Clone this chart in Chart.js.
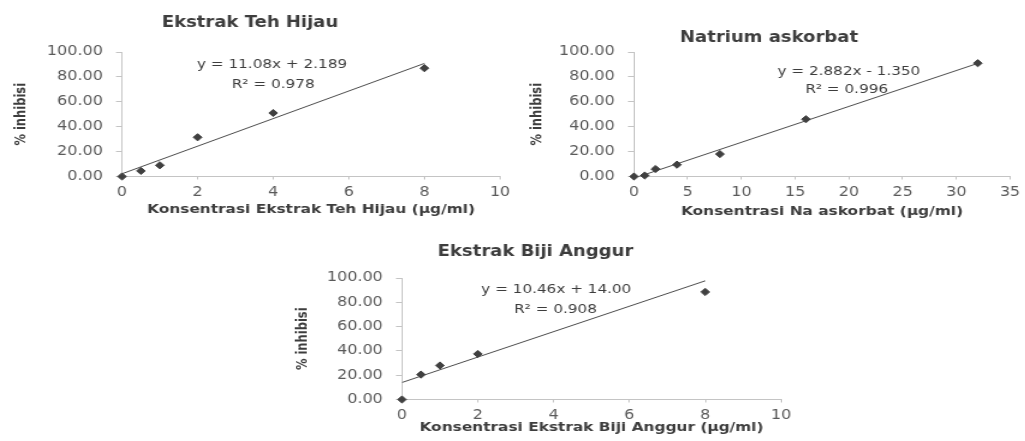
<!DOCTYPE html>
<html>
<head>
<meta charset="utf-8">
<title>Aktivitas antioksidan</title>
<script src="https://cdn.jsdelivr.net/npm/chart.js@4.4.1/dist/chart.umd.min.js"></script>
<style>
  html, body { margin: 0; padding: 0; background: #fff; overflow: hidden; }
  #wrap { position: relative; width: 1025px; height: 441px; overflow: hidden; background: #fff; }
  #wrap canvas { position: absolute; }
</style>
</head>
<body>
<div id="wrap"></div>
<script>
// Ekstrak Teh Hijau
const tehKonsentrasi = [0, 0.5, 1, 2, 4, 8];
const tehInhibisi = [0, 4.5, 9, 31.5, 51, 87];
const tehSlope = 11.08, tehIntercept = 2.189, tehR2 = 0.978;

// Natrium askorbat
const askKonsentrasi = [0, 1, 2, 4, 8, 16, 32];
const askInhibisi = [0, 0.8, 6, 9.5, 18, 46, 91];
const askSlope = 2.882, askIntercept = -1.350, askR2 = 0.996;

// Ekstrak Biji Anggur
const anggurKonsentrasi = [0, 0.5, 1, 2, 8];
const anggurInhibisi = [0, 20.5, 28, 37.5, 88.5];
const anggurSlope = 10.46, anggurIntercept = 14.00, anggurR2 = 0.908;

// Axis ranges
const inhibisiTicks = [0, 20, 40, 60, 80, 100];

// Drawing surface is rendered narrower and widened by CSS
const STRETCH = 1.2;
const FONT = "'DejaVu Sans', sans-serif";
const TITLE_SIZE = 15, X_TITLE_SIZE = 12.8, Y_TITLE_SIZE = 11.5, TICK_SIZE = 13.3, EQ_SIZE = 12.7;
const TEXT_DARK = '#3d3d3d', TEXT_TICK = '#5a5a5a', AXIS_GRAY = '#c4c4c4', MARK = '#404040';

const wrap = document.getElementById('wrap');

// Writes the regression equation and R² inside the plot, anchored in data units
const equationLabel = {
  id: 'equationLabel',
  afterDatasetsDraw(chart, args, opts) {
    const { ctx, scales: { x, y } } = chart;
    ctx.save();
    ctx.font = `${EQ_SIZE}px ${FONT}`;
    ctx.fillStyle = TEXT_DARK;
    ctx.textAlign = 'center';
    ctx.textBaseline = 'middle';
    opts.lines.forEach(l => ctx.fillText(l.text, x.getPixelForValue(l.x), y.getPixelForValue(l.y)));
    ctx.restore();
  }
};

function fmtEquation(m, b) {
  const sign = b < 0 ? '-' : '+';
  return `y = ${m.toPrecision(4)}x ${sign} ${Math.abs(b).toPrecision(4)}`;
}

function panel(p) {
  const { box, plot } = p;
  const canvas = document.createElement('canvas');
  const w = Math.round(box.w / STRETCH);
  const s = box.w / w;
  canvas.width = w;
  canvas.height = box.h;
  canvas.style.left = box.x + 'px';
  canvas.style.top = box.y + 'px';
  canvas.style.width = box.w + 'px';
  canvas.style.height = box.h + 'px';
  wrap.appendChild(canvas);

  const plotLeft = (plot.l - box.x) / s;
  const plotRight = (plot.r - box.x) / s;
  const titleLH = TITLE_SIZE * 1.2;
  const xTitleLH = X_TITLE_SIZE * 1.2;
  const yTitleLH = Y_TITLE_SIZE * 1.2;
  const titleCY = p.titleCY - box.y;
  const xAxisH = box.y + box.h - plot.b;

  const points = p.xs.map((x, i) => ({ x, y: p.ys[i] }));
  const xEnd = p.xs[p.xs.length - 1];
  const trend = [
    { x: 0, y: p.intercept },
    { x: xEnd, y: p.slope * xEnd + p.intercept }
  ];

  new Chart(canvas, {
    type: 'scatter',
    data: {
      datasets: [
        {
          type: 'line',
          data: trend,
          borderColor: '#4d4d4d',
          borderWidth: 1,
          pointRadius: 0,
          fill: false,
          order: 2
        },
        {
          data: points,
          pointStyle: 'rectRot',
          pointRadius: 3.6,
          backgroundColor: MARK,
          borderColor: MARK,
          borderWidth: 1,
          showLine: false,
          clip: false,
          order: 1
        }
      ]
    },
    options: {
      responsive: false,
      animation: false,
      devicePixelRatio: 1,
      layout: { padding: { left: 0, right: w - plotRight, top: 0, bottom: 0 } },
      plugins: {
        legend: { display: false },
        tooltip: { enabled: false },
        title: {
          display: true,
          text: p.title,
          color: TEXT_DARK,
          font: { family: FONT, size: TITLE_SIZE, weight: 'bold', lineHeight: 1.2 },
          padding: { top: titleCY - titleLH / 2, bottom: (plot.t - p.titleCY) - titleLH / 2 }
        },
        equationLabel: {
          lines: [
            { text: fmtEquation(p.slope, p.intercept), x: p.eqAt[0], y: p.eqAt[1] },
            { text: `R² = ${p.r2.toPrecision(3)}`, x: p.r2At[0], y: p.r2At[1] }
          ]
        }
      },
      scales: {
        x: {
          type: 'linear',
          min: 0,
          max: p.xMax,
          afterFit: sc => { sc.height = xAxisH; },
          ticks: {
            stepSize: p.xStep,
            color: TEXT_TICK,
            font: { family: FONT, size: TICK_SIZE },
            padding: 5,
            maxRotation: 0
          },
          grid: { drawOnChartArea: false, drawTicks: true, tickLength: 3, color: AXIS_GRAY },
          border: { display: true, color: AXIS_GRAY, width: 1 },
          title: {
            display: true,
            text: p.xTitle,
            color: TEXT_DARK,
            font: { family: FONT, size: X_TITLE_SIZE, weight: 'bold', lineHeight: 1.2 },
            padding: { top: 0, bottom: (box.y + box.h - p.xTitleCY) - xTitleLH / 2 }
          }
        },
        y: {
          type: 'linear',
          min: inhibisiTicks[0],
          max: inhibisiTicks[inhibisiTicks.length - 1],
          afterFit: sc => { sc.width = plotLeft; },
          afterBuildTicks: sc => { sc.ticks = inhibisiTicks.map(v => ({ value: v })); },
          ticks: {
            color: TEXT_TICK,
            font: { family: FONT, size: TICK_SIZE },
            padding: 11,
            callback: v => Number(v).toFixed(2)
          },
          grid: { drawOnChartArea: false, drawTicks: true, tickLength: 5, color: AXIS_GRAY },
          border: { display: true, color: AXIS_GRAY, width: 1 },
          title: {
            display: true,
            text: '% inhibisi',
            color: TEXT_DARK,
            font: { family: FONT, size: Y_TITLE_SIZE, weight: 'bold', lineHeight: 1.2 },
            padding: { top: Math.max(0, (p.yTitleCX - box.x) / s - yTitleLH / 2), bottom: 0 }
          }
        }
      }
    },
    plugins: [equationLabel]
  });
}

panel({
  title: 'Ekstrak Teh Hijau',
  xTitle: 'Konsentrasi Ekstrak Teh Hijau (µg/ml)',
  xs: tehKonsentrasi, ys: tehInhibisi,
  slope: tehSlope, intercept: tehIntercept, r2: tehR2,
  xMax: 10, xStep: 2,
  eqAt: [3.97, 89.5], r2At: [4.0, 74],
  box: { x: 0, y: 0, w: 520, h: 222 },
  plot: { l: 122, r: 500, t: 52, b: 176.5 },
  titleCY: 23, yTitleCX: 22, xTitleCY: 210
});

panel({
  title: 'Natrium askorbat',
  xTitle: 'Konsentrasi Na askorbat (µg/ml)',
  xs: askKonsentrasi, ys: askInhibisi,
  slope: askSlope, intercept: askIntercept, r2: askR2,
  xMax: 35, xStep: 5,
  eqAt: [20.0, 83.8], r2At: [19.8, 69.4],
  box: { x: 528, y: 0, w: 544, h: 222 },
  plot: { l: 634, r: 1010, t: 52, b: 176.5 },
  titleCY: 38, yTitleCX: 538, xTitleCY: 212
});

panel({
  title: 'Ekstrak Biji Anggur',
  xTitle: 'Konsentrasi Ekstrak Biji Anggur (µg/ml)',
  xs: anggurKonsentrasi, ys: anggurInhibisi,
  slope: anggurSlope, intercept: anggurIntercept, r2: anggurR2,
  xMax: 10, xStep: 2,
  eqAt: [4.07, 90], r2At: [4.05, 73.8],
  box: { x: 290, y: 222, w: 510, h: 219 },
  plot: { l: 402, r: 781, t: 278, b: 399.5 },
  titleCY: 252, yTitleCX: 303, xTitleCY: 428
});
</script>
</body>
</html>
